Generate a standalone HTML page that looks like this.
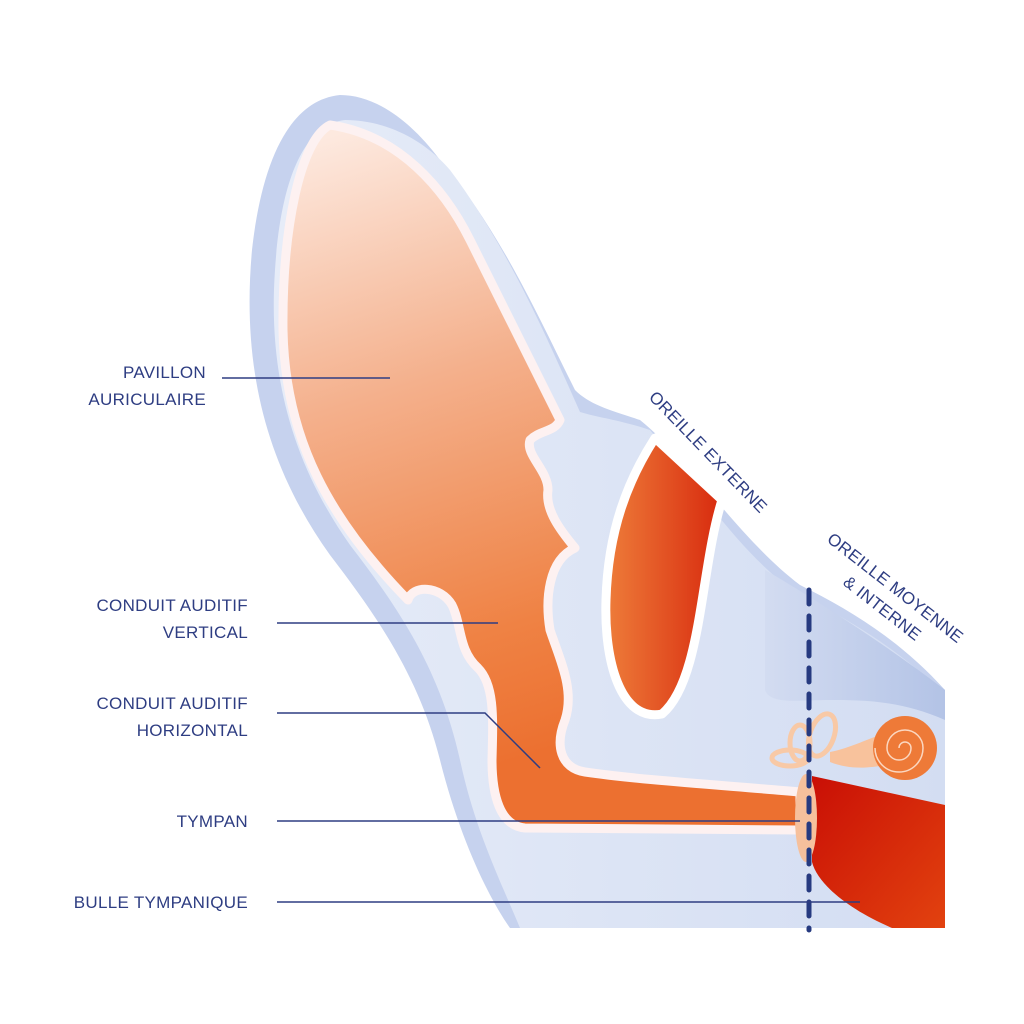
<!DOCTYPE html>
<html><head><style>
html,body{margin:0;padding:0;background:#fff;}
svg{display:block}
text{font-family:"Liberation Sans",sans-serif;fill:#2e3d82;font-size:17px;letter-spacing:0.3px}
</style></head><body>
<svg width="1024" height="1024" viewBox="0 0 1024 1024">
<defs>
<linearGradient id="inner" x1="0" y1="0" x2="1" y2="0">
<stop offset="0" stop-color="#e6ecf8"/><stop offset="1" stop-color="#d3ddf2"/></linearGradient>
<linearGradient id="or" gradientUnits="userSpaceOnUse" x1="320" y1="140" x2="520" y2="760">
<stop offset="0" stop-color="#fde9df"/><stop offset="0.4" stop-color="#f4b08c"/><stop offset="0.8" stop-color="#ef8244"/><stop offset="1" stop-color="#ec7030"/></linearGradient>
<linearGradient id="red" x1="0" y1="0" x2="1" y2="0">
<stop offset="0" stop-color="#ee7d3a"/><stop offset="1" stop-color="#d82a0e"/></linearGradient>
<linearGradient id="bul" x1="0" y1="0" x2="1" y2="1">
<stop offset="0" stop-color="#c90f05"/><stop offset="1" stop-color="#e2420f"/></linearGradient>
<linearGradient id="me" x1="0" y1="0" x2="1" y2="0">
<stop offset="0" stop-color="#d3dcf1"/><stop offset="1" stop-color="#b3c3e6"/></linearGradient>
</defs>
<path d="M340,95 C290,100 262,160 252,250 C242,360 262,460 330,555 C380,620 420,680 440,760 C460,840 490,900 510,928 L945,928 L945,690 C900,640 850,610 800,585 C740,540 690,460 640,420 C610,410 590,405 575,390 C540,320 500,230 440,160 C410,120 375,95 340,95 Z" fill="#c6d2ee"/>
<path d="M345,120 C300,125 280,190 275,270 C268,370 290,460 350,545 C400,610 440,670 460,760 C475,830 500,880 520,928 L945,928 L945,695 C900,650 850,620 800,595 C745,560 700,490 650,430 C620,420 600,418 580,412 C550,345 510,250 450,170 C420,135 380,120 345,120 Z" fill="url(#inner)"/>
<path d="M765,570 C800,590 880,640 945,690 L945,720 C900,700 860,700 830,700 C800,700 770,705 765,690 Z" fill="url(#me)"/>
<path d="M330,125 C300,140 282,230 283,330 C285,440 330,520 408,600 C412,585 440,585 452,605 C462,625 458,650 478,668 C495,685 493,720 492,760 C492,795 500,826 525,828 L800,830 L800,792 C720,785 640,780 585,772 C560,768 555,745 565,720 C575,690 560,660 550,630 C545,600 548,560 575,548 C560,530 545,510 548,490 C548,470 525,455 530,440 C540,430 555,432 560,420 C540,380 500,300 470,240 C445,190 400,135 330,125 Z" fill="url(#or)" stroke="#fdf1f1" stroke-width="9" stroke-linejoin="round"/>
<path d="M655,438 L722,500 C700,570 702,680 662,714 C620,722 604,660 606,600 C608,530 628,480 655,438 Z" fill="url(#red)" stroke="#ffffff" stroke-width="9" stroke-linejoin="round"/>
<path d="M812,776 L945,805 L945,928 L892,928 C850,910 818,885 812,862 Z" fill="url(#bul)"/>
<ellipse cx="806" cy="818" rx="11" ry="44" fill="#f6c09c"/>
<g fill="none" stroke="#f8c9a6" stroke-width="5">
<ellipse cx="822" cy="735" rx="12" ry="22" transform="rotate(20 822 735)"/>
<ellipse cx="800" cy="743" rx="10" ry="18"/>
<ellipse cx="790" cy="758" rx="18" ry="8"/>
</g>
<path d="M830,752 C850,748 865,740 880,735 L885,765 C870,768 850,770 830,762 Z" fill="#f8c29c"/>
<circle cx="905" cy="748" r="32" fill="#ee7a38"/>
<path d="M905,748 m-6,0 a6,6 0 1,1 12,0 a12,12 0 1,1 -24,0 a18,18 0 1,1 36,0 a24,24 0 1,1 -48,0" fill="none" stroke="#fbd7c0" stroke-width="1.5"/>
<line x1="809" y1="590" x2="809" y2="930" stroke="#263a80" stroke-width="5" stroke-dasharray="14,12" stroke-linecap="round"/>
<g stroke="#2e3d82" stroke-width="1.5" fill="none">
<line x1="222" y1="378" x2="390" y2="378"/>
<line x1="277" y1="623" x2="498" y2="623"/>
<polyline points="277,713 485,713 540,768"/>
<line x1="277" y1="821" x2="800" y2="821"/>
<line x1="277" y1="902" x2="860" y2="902"/>
</g>
<text x="206" y="378" text-anchor="end">PAVILLON</text>
<text x="206" y="405" text-anchor="end">AURICULAIRE</text>
<text x="248" y="611" text-anchor="end">CONDUIT AUDITIF</text>
<text x="248" y="638" text-anchor="end">VERTICAL</text>
<text x="248" y="709" text-anchor="end">CONDUIT AUDITIF</text>
<text x="248" y="736" text-anchor="end">HORIZONTAL</text>
<text x="248" y="827" text-anchor="end">TYMPAN</text>
<text x="248" y="908" text-anchor="end">BULLE TYMPANIQUE</text>
<text x="0" y="0" transform="translate(648,398) rotate(46)">OREILLE EXTERNE</text>
<text x="0" y="0" transform="translate(826,541) rotate(38)">OREILLE MOYENNE</text>
<text x="0" y="0" transform="translate(842,584) rotate(38)">&amp; INTERNE</text>
</svg>
</body></html>
